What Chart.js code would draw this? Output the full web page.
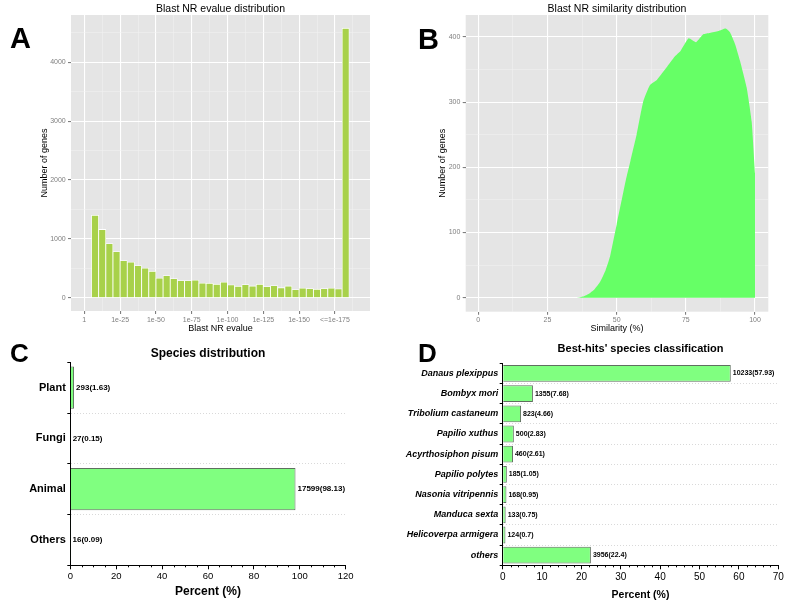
<!DOCTYPE html>
<html>
<head>
<meta charset="utf-8">
<script src="https://cdn.jsdelivr.net/npm/chart.js@4.4.0/dist/chart.umd.min.js"></script>
<style>
body { margin: 0; background: #fff; width: 787px; height: 608px; position: relative; overflow: hidden }
canvas { position: absolute }
.tag { position: absolute; font: bold 29px "Liberation Sans", Arial, sans-serif; line-height: 1; color: #000; z-index: 2 }
</style>
</head>
<body>
<canvas id="chartA" width="393" height="335" style="left:0;top:0"></canvas>
<canvas id="chartB" width="394" height="335" style="left:393px;top:0"></canvas>
<canvas id="chartC" width="393" height="273" style="left:0;top:335px"></canvas>
<canvas id="chartD" width="394" height="273" style="left:393px;top:335px"></canvas>
<div class="tag" style="left:10px;top:24px">A</div>
<div class="tag" style="left:418px;top:25px">B</div>
<div class="tag" style="left:10px;top:340px;font-size:26px">C</div>
<div class="tag" style="left:418px;top:340px;font-size:26px">D</div>
<script>
const font = '"Liberation Sans", Arial, sans-serif'

// A - evalue histogram (x = -log10 evalue, bin centres)
const evalueBins = [7.5, 12.5, 17.5, 22.5, 27.5, 32.5, 37.5, 42.5, 47.5, 52.5, 57.5, 62.5,
    67.5, 72.5, 77.5, 82.5, 87.5, 92.5, 97.5, 102.5, 107.5, 112.5, 117.5, 122.5,
    127.5, 132.5, 137.5, 142.5, 147.5, 152.5, 157.5, 162.5, 167.5, 172.5, 177.5, 182.5]
const evalueCounts = [1400, 1160, 920, 785, 630, 605, 545, 505, 450, 335, 375, 325,
    290, 290, 300, 250, 245, 230, 265, 220, 195, 225, 200, 230,
    190, 205, 170, 200, 140, 165, 155, 145, 155, 165, 150, 4580]
const evalueTicks = [0, 25, 50, 75, 100, 125, 150, 175]
const evalueTickLabels = ['1', '1e-25', '1e-50', '1e-75', '1e-100', '1e-125', '1e-150', '<=1e-175']
const evalueMinor = [12.5, 37.5, 62.5, 87.5, 112.5, 137.5, 162.5, 187.5]
const genesTicksA = [0, 1000, 2000, 3000, 4000]
const genesMinorA = [500, 1500, 2500, 3500, 4500]

// B - similarity distribution
const simX = [35.5, 38, 40, 42, 44, 46, 47.6, 49.4, 50, 53.3, 55, 57.2, 59.6, 62, 64.5, 68,
    71, 73, 76, 78.7, 81.3, 83.7, 86.7, 89.4, 91, 92.8, 94.6, 97, 98.8, 100]
const simY = [0, 2, 6, 13, 24, 42, 63, 100, 112, 180, 210, 250, 301, 326, 334, 353,
    370, 378, 398, 392, 404, 406, 409, 413, 407, 389, 363, 322, 270, 190]
const simTicks = [0, 25, 50, 75, 100]
const simMinor = [12.5, 37.5, 62.5, 87.5]
const genesTicksB = [0, 100, 200, 300, 400]
const genesMinorB = [50, 150, 250, 350]

// C - species distribution
const speciesCats = ['Plant', 'Fungi', 'Animal', 'Others']
const speciesCounts = [293, 27, 17599, 16]
const speciesPct = [1.63, 0.15, 98.13, 0.09]
const pctTicksC = [0, 20, 40, 60, 80, 100, 120]
const pctMinorC = [5, 10, 15, 25, 30, 35, 45, 50, 55, 65, 70, 75, 85, 90, 95, 105, 110, 115]

// D - best hits
const hitCats = ['Danaus plexippus', 'Bombyx mori', 'Tribolium castaneum', 'Papilio xuthus',
    'Acyrthosiphon pisum', 'Papilio polytes', 'Nasonia vitripennis', 'Manduca sexta',
    'Helicoverpa armigera', 'others']
const hitCounts = [10233, 1355, 823, 500, 460, 185, 168, 133, 124, 3956]
const hitPct = [57.93, 7.68, 4.66, 2.83, 2.61, 1.05, 0.95, 0.75, 0.7, 22.4]
const pctTicksD = [0, 10, 20, 30, 40, 50, 60, 70]
const pctMinorD = [2, 4, 6, 8, 12, 14, 16, 18, 22, 24, 26, 28, 32, 34, 36, 38, 42, 44, 46, 48, 52, 54, 56, 58, 62, 64, 66, 68]

const ggBack = {
    id: 'ggBack',
    beforeDraw(chart) {
        const {ctx, chartArea: a} = chart
        ctx.save()
        ctx.fillStyle = '#E5E5E5'
        ctx.fillRect(a.left, a.top, a.width, a.height)
        ctx.restore()
    }
}

const barLabels = {
    id: 'barLabels',
    afterDatasetsDraw(chart, args, opts) {
        const ctx = chart.ctx
        ctx.save()
        ctx.font = `bold ${opts.size}px ${font}`
        ctx.fillStyle = '#000'
        ctx.textBaseline = 'middle'
        chart.getDatasetMeta(0).data.forEach((bar, i) => {
            ctx.fillText(opts.labels[i], bar.x + 2, bar.y)
        })
        ctx.restore()
    }
}

const minorTicks = {
    id: 'minorTicks',
    afterDraw(chart, args, opts) {
        const s = chart.scales.x
        const ctx = chart.ctx
        ctx.save()
        ctx.strokeStyle = '#000'
        ctx.lineWidth = 1
        opts.values.forEach(v => {
            const x = Math.round(s.getPixelForValue(v)) + 0.5
            ctx.beginPath()
            ctx.moveTo(x, s.top)
            ctx.lineTo(x, s.top + 2)
            ctx.stroke()
        })
        ctx.restore()
    }
}

function isMajor(c, majors) {
    return c.tick && majors.includes(c.tick.value)
}

function ggGrid(majors) {
    return {
        offset: false,
        color: c => isMajor(c, majors) ? '#FFFFFF' : '#F2F2F2',
        lineWidth: c => isMajor(c, majors) ? 1.1 : 0.5,
        tickColor: c => isMajor(c, majors) ? '#7F7F7F' : 'rgba(0,0,0,0)',
        tickLength: 3
    }
}

function allTicks(majors, minors) {
    return s => {
        s.ticks = majors.concat(minors).sort((a, b) => a - b).map(v => ({value: v}))
    }
}

function ggTicks(majors, labels, pad) {
    return {
        autoSkip: false, maxRotation: 0, padding: pad, color: '#7F7F7F',
        font: {family: font, size: 7},
        callback: v => {
            const i = majors.indexOf(v)
            return i < 0 ? '' : (labels ? labels[i] : String(v))
        }
    }
}

// A
new Chart(document.getElementById('chartA'), {
    type: 'bar',
    data: {
        datasets: [{
            data: evalueBins.map((b, i) => ({x: b, y: evalueCounts[i]})),
            backgroundColor: '#A8D14A',
            borderColor: '#FFFFFF',
            borderWidth: 0.8,
            categoryPercentage: 1,
            barPercentage: 1
        }]
    },
    options: {
        responsive: false, animation: false,
        layout: {padding: {left: 0, right: 23, top: 0, bottom: 0}},
        plugins: {
            legend: {display: false}, tooltip: {enabled: false},
            title: {display: true, text: 'Blast NR evalue distribution', fullSize: false, color: '#000',
                font: {family: font, size: 10.5, weight: 'normal'}, padding: {top: 2.4, bottom: 0}}
        },
        scales: {
            x: {
                type: 'linear', min: -9.3, max: 199.5, offset: false,
                afterBuildTicks: allTicks(evalueTicks, evalueMinor),
                grid: ggGrid(evalueTicks), border: {display: false},
                ticks: ggTicks(evalueTicks, evalueTickLabels, 1.5),
                title: {display: true, text: 'Blast NR evalue', color: '#000',
                    font: {family: font, size: 9}, padding: {top: 0, bottom: 1}},
                afterFit: s => { s.height = 24 }
            },
            y: {
                type: 'linear', min: -226, max: 4804,
                afterBuildTicks: allTicks(genesTicksA, genesMinorA),
                grid: ggGrid(genesTicksA), border: {display: false},
                ticks: ggTicks(genesTicksA, null, 2.3),
                title: {display: true, text: 'Number of genes', color: '#000',
                    font: {family: font, size: 9}, padding: {top: 39.6, bottom: 0}},
                afterFit: s => { s.width = 71 }
            }
        }
    },
    plugins: [ggBack]
})

// B
new Chart(document.getElementById('chartB'), {
    type: 'line',
    data: {
        datasets: [{
            data: simX.map((x, i) => ({x: x, y: simY[i]})),
            backgroundColor: '#66FF66',
            borderWidth: 0,
            pointRadius: 0,
            fill: 'origin',
            tension: 0.15
        }]
    },
    options: {
        responsive: false, animation: false,
        layout: {padding: {left: 0, right: 18.7, top: 0, bottom: 0}},
        plugins: {
            legend: {display: false}, tooltip: {enabled: false},
            title: {display: true, text: 'Blast NR similarity distribution', fullSize: false, color: '#000',
                font: {family: font, size: 10.5, weight: 'normal'}, padding: {top: 2.4, bottom: 0}}
        },
        scales: {
            x: {
                type: 'linear', min: -4.55, max: 104.8, offset: false,
                afterBuildTicks: allTicks(simTicks, simMinor),
                grid: ggGrid(simTicks), border: {display: false},
                ticks: ggTicks(simTicks, null, 1.1),
                title: {display: true, text: 'Similarity (%)', color: '#000',
                    font: {family: font, size: 9}, padding: {top: 0, bottom: 1}},
                afterFit: s => { s.height = 23.3 }
            },
            y: {
                type: 'linear', min: -21.5, max: 433.7,
                afterBuildTicks: allTicks(genesTicksB, genesMinorB),
                grid: ggGrid(genesTicksB), border: {display: false},
                ticks: ggTicks(genesTicksB, null, 2.3),
                title: {display: true, text: 'Number of genes', color: '#000',
                    font: {family: font, size: 9}, padding: {top: 44.6, bottom: 0}},
                afterFit: s => { s.width = 72.7 }
            }
        }
    },
    plugins: [ggBack]
})

function hbarChart(el, cats, pct, counts, o) {
    return new Chart(el, {
        type: 'bar',
        data: {
            labels: cats,
            datasets: [{
                data: pct,
                backgroundColor: '#80FF80',
                borderColor: '#5F6F5F',
                borderWidth: 1,
                categoryPercentage: 1,
                barPercentage: 0.83
            }]
        },
        options: {
            indexAxis: 'y', responsive: false, animation: false,
            layout: {padding: {left: 0, right: o.right, top: 0, bottom: 0}},
            plugins: {
                legend: {display: false}, tooltip: {enabled: false},
                title: {display: true, text: o.title, fullSize: false, color: '#000',
                    font: {family: font, size: o.titleSize, weight: 'bold'}, padding: o.titlePad},
                barLabels: {labels: cats.map((c, i) => `${counts[i]}(${pct[i]})`), size: o.labelSize},
                minorTicks: {values: o.minor}
            },
            scales: {
                x: {
                    min: 0, max: o.majors[o.majors.length - 1],
                    afterBuildTicks: allTicks(o.majors, []),
                    grid: {drawOnChartArea: false, tickColor: '#000', tickLength: 4},
                    border: {color: '#000', width: 1},
                    ticks: {autoSkip: false, maxRotation: 0, color: '#000', padding: o.xPad,
                        font: {family: font, size: o.xSize}},
                    title: {display: true, text: 'Percent (%)', color: '#000',
                        font: {family: font, size: o.axisTitleSize, weight: 'bold'}, padding: {top: 0, bottom: o.axisTitlePad}},
                    afterFit: s => { s.height = 42.7 }
                },
                y: {
                    grid: {
                        color: c => c.type === 'tick' && c.index > 0 ? '#D9D9D9' : 'rgba(0,0,0,0)',
                        tickColor: '#000', tickLength: 3, lineWidth: 1
                    },
                    border: {color: '#000', width: 1, dash: [1, 2]},
                    ticks: {color: '#000', padding: 1.5,
                        font: {family: font, size: o.catSize, weight: 'bold', style: o.catStyle}},
                    afterFit: s => { s.width = o.axisWidth }
                }
            }
        },
        plugins: [barLabels, minorTicks]
    })
}

// C
hbarChart(document.getElementById('chartC'), speciesCats, speciesPct, speciesCounts, {
    right: 47.3, title: 'Species distribution', titleSize: 12, titlePad: {top: 11.8, bottom: 1.1},
    labelSize: 8, majors: pctTicksC, minor: pctMinorC, xPad: 1.4, xSize: 9.5,
    axisTitleSize: 12, axisTitlePad: 9.1, catSize: 11, catStyle: 'normal', axisWidth: 70.3
})

// D
hbarChart(document.getElementById('chartD'), hitCats, hitPct, hitCounts, {
    right: 8.7, title: "Best-hits' species classification", titleSize: 11, titlePad: {top: 7.7, bottom: 7.4},
    labelSize: 7, majors: pctTicksD, minor: pctMinorD, xPad: 2, xSize: 10,
    axisTitleSize: 10.5, axisTitlePad: 6.7, catSize: 9, catStyle: 'italic', axisWidth: 109.7
})
</script>
</body>
</html>
